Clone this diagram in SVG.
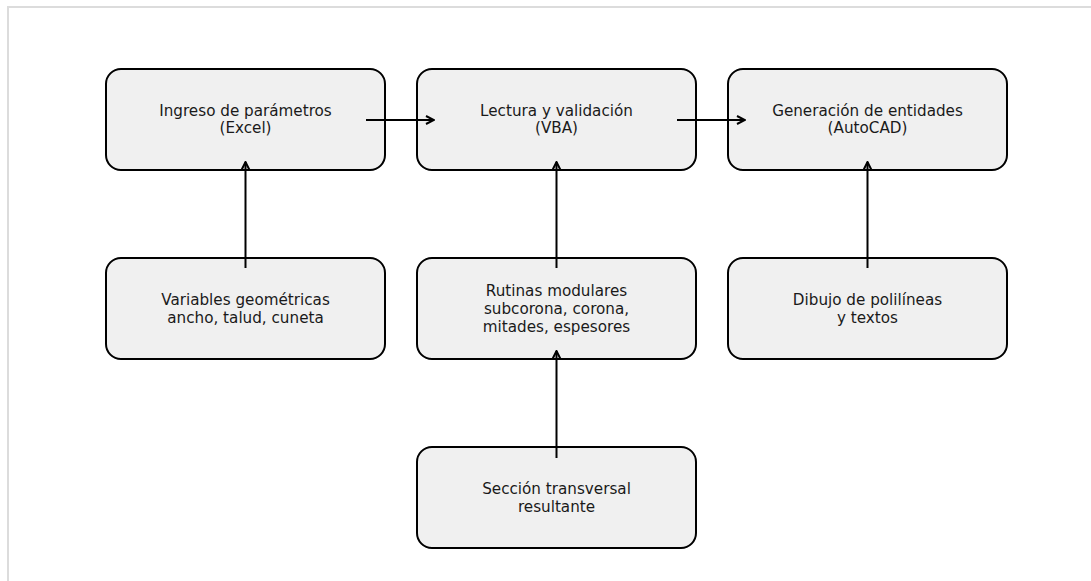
<svg xmlns="http://www.w3.org/2000/svg" width="1091" height="581" viewBox="0 0 1091 581">
<style>
.frame{fill:none;stroke:#dcdcdc;stroke-width:2}
.box{fill:#f0f0f0;stroke:#000;stroke-width:2}
.lbl{font-family:"DejaVu Sans",sans-serif;font-size:15.2px;fill:#1a1a1a;text-anchor:middle}
.conn{stroke:#000;stroke-width:2;fill:none}
</style>
<defs>
<marker id="arr" viewBox="0 0 10 10" refX="9" refY="5" markerWidth="10" markerHeight="10" markerUnits="userSpaceOnUse" orient="auto">
<polyline points="1,1 9,5 1,9" fill="none" stroke="#000" stroke-width="2"/>
</marker>
</defs>
<rect x="0" y="0" width="1091" height="581" fill="#fff"/>
<rect class="frame" x="8" y="7" width="1100" height="600"/>
<g id="n1"><rect class="box" x="106" y="69" width="279" height="101" rx="15"/><text class="lbl" x="245.5" y="116">Ingreso de parámetros</text><text class="lbl" x="245.5" y="133">(Excel)</text></g>
<g id="n2"><rect class="box" x="417" y="69" width="279" height="101" rx="15"/><text class="lbl" x="556.5" y="116">Lectura y validación</text><text class="lbl" x="556.5" y="133">(VBA)</text></g>
<g id="n3"><rect class="box" x="728" y="69" width="279" height="101" rx="15"/><text class="lbl" x="867.5" y="116">Generación de entidades</text><text class="lbl" x="867.5" y="133">(AutoCAD)</text></g>
<g id="n4"><rect class="box" x="106" y="258" width="279" height="101" rx="15"/><text class="lbl" x="245.5" y="305">Variables geométricas</text><text class="lbl" x="245.5" y="323">ancho, talud, cuneta</text></g>
<g id="n5"><rect class="box" x="417" y="258" width="279" height="101" rx="15"/><text class="lbl" x="556.5" y="296">Rutinas modulares</text><text class="lbl" x="556.5" y="314">subcorona, corona,</text><text class="lbl" x="556.5" y="332">mitades, espesores</text></g>
<g id="n6"><rect class="box" x="728" y="258" width="279" height="101" rx="15"/><text class="lbl" x="867.5" y="305">Dibujo de polilíneas</text><text class="lbl" x="867.5" y="323">y textos</text></g>
<g id="n7"><rect class="box" x="417" y="447" width="279" height="101" rx="15"/><text class="lbl" x="556.5" y="494">Sección transversal</text><text class="lbl" x="556.5" y="512">resultante</text></g>
<g id="connectors">
<line class="conn" x1="366" y1="120" x2="434" y2="120" marker-end="url(#arr)"/>
<line class="conn" x1="677" y1="120" x2="745" y2="120" marker-end="url(#arr)"/>
<line class="conn" x1="245.5" y1="268" x2="245.5" y2="162" marker-end="url(#arr)"/>
<line class="conn" x1="556.5" y1="268" x2="556.5" y2="162" marker-end="url(#arr)"/>
<line class="conn" x1="867.5" y1="268" x2="867.5" y2="162" marker-end="url(#arr)"/>
<line class="conn" x1="556.5" y1="458" x2="556.5" y2="351" marker-end="url(#arr)"/>
</g>
</svg>
